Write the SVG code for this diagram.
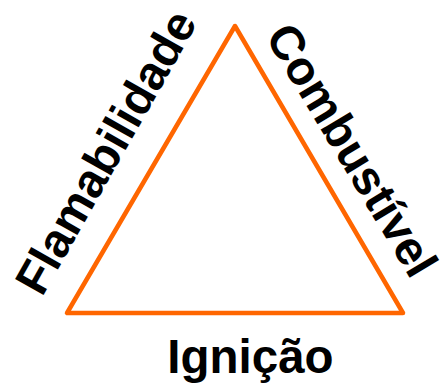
<svg xmlns="http://www.w3.org/2000/svg" width="442" height="385" viewBox="0 0 442 385">
<style>
.lbl{font-family:"Liberation Sans",Arial,sans-serif;font-weight:bold;font-size:47.5px;fill:#000;text-anchor:middle}
.tri{fill:none;stroke:#FF6600;stroke-width:4.5;stroke-linejoin:round}
</style>
<rect width="442" height="385" fill="#fff"/>
<g id="triangle"><polygon class="tri" points="235,26 67,313 403,313"/></g>
<g id="flamabilidade"><text class="lbl" transform="translate(120,160) rotate(-60.5)">Flamabilidade</text></g>
<g id="combustivel"><text class="lbl" transform="translate(338,158.5) rotate(59)">Combustível</text></g>
<g id="ignicao"><text class="lbl" x="250.5" y="373">Ignição</text></g>
</svg>
